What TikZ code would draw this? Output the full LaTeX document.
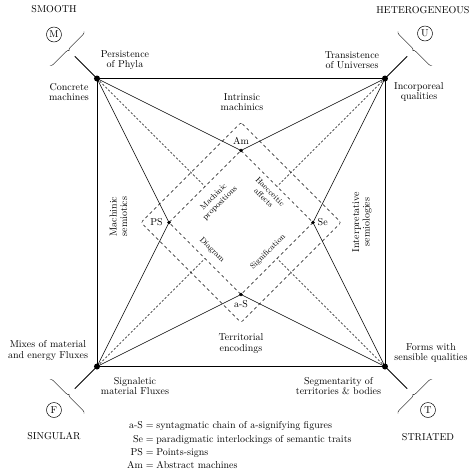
\documentclass[tikz,border=0pt]{standalone}
\usetikzlibrary{decorations.pathreplacing}
\begin{document}
\begin{tikzpicture}[x=1pt, y=1pt, line join=round, line cap=round,
	lab/.style={align=center, font=\fontsize{10}{10.5}\selectfont, inner sep=1pt},
	inn/.style={align=center, font=\fontsize{8}{9}\selectfont, inner sep=1pt},
	mark circ/.style={circle, draw, line width=0.5pt, inner sep=0pt, minimum size=15pt},
	brc/.style={decorate, decoration={brace, amplitude=3pt}, line width=0.4pt}]
	\def\a{144} \def\b{72} \def\c{100}
	\useasboundingbox (-241,-252.5) rectangle (234,222.5);
	\coordinate (TL) at (-\a,\a); \coordinate (TR) at (\a,\a);
	\coordinate (BL) at (-\a,-\a); \coordinate (BR) at (\a,-\a);
	\coordinate (Am) at (0,\b); \coordinate (Se) at (\b,0);
	\coordinate (aS) at (0,-\b); \coordinate (PS) at (-\b,0);
	\coordinate (mTL) at (-\b/2,\b/2); \coordinate (mTR) at (\b/2,\b/2);
	\coordinate (mBL) at (-\b/2,-\b/2); \coordinate (mBR) at (\b/2,-\b/2);
	% square and star
	\draw[line width=0.8pt] (TL) rectangle (BR);
	\draw[line width=0.6pt] (TL)--(Am)--(TR)--(Se)--(BR)--(aS)--(BL)--(PS)--cycle;
	% dashed diamonds and diagonals
	\draw[dashed, line width=0.4pt] (Am)--(Se)--(aS)--(PS)--cycle;
	\draw[dashed, line width=0.4pt, rounded corners=2pt] (0,\c)--(\c,0)--(0,-\c)--(-\c,0)--cycle;
	\foreach \n in {TL,TR,BL,BR} \draw[line width=0.5pt, dash pattern=on 2pt off 2pt] (\n)--(m\n);
	% corners
	\foreach \n/\sx/\sy in {TL/-1/1, TR/1/1, BL/-1/-1, BR/1/-1} {
		\coordinate (e\n) at (\sx*166,\sy*166);
		\draw[line width=1pt] (\n)--(e\n);
		\fill (\n) circle(3pt);
	}
	\foreach \i in {Am,Se,aS,PS} \fill (\i) circle(1.8pt);
	\draw[brc] (-157,191)--(-191,157);
	\draw[brc] (191,157)--(157,191);
	\draw[brc] (-191,-157)--(-157,-191);
	\draw[brc] (157,-191)--(191,-157);
	\path
	(-187,188) node[mark circ] (cM) {M}
	(184,189) node[mark circ] (cU) {U}
	(-187,-187.5) node[mark circ] (cF) {F}
	(187,-187.5) node[mark circ] (cT) {T}
	(-187,213.5) node[lab] (smooth) {SMOOTH}
	(182,212.5) node[lab] (hetero) {HETEROGENEOUS}
	(-187,-214) node[lab] (singular) {SINGULAR}
	(187,-214.5) node[lab] (striated) {STRIATED};
	% corner labels
	\path
	(-116,162.5) node[lab] (pers) {Persistence\\of Phyla}
	(-172,130.5) node[lab] (conc) {Concrete\\machines}
	(111,162.5) node[lab] (trans) {Transistence\\of Universes}
	(178,130.5) node[lab] (incorp) {Incorporeal\\qualities}
	(-193,-128) node[lab] (mixes) {Mixes of material\\and energy Fluxes}
	(-106,-163.5) node[lab] (signal) {Signaletic\\material Fluxes}
	(190,-130.5) node[lab] (forms) {Forms with\\sensible qualities}
	(97.5,-163.5) node[lab] (segm) {Segmentarity of\\territories \& bodies};
	% side labels
	\path
	(1,120.5) node[lab] (intr) {Intrinsic\\machinics}
	(0,-121) node[lab] (terr) {Territorial\\encodings}
	(-122.5,6) node[lab, rotate=90] (msem) {Machinic\\semiotics}
	(121,0.5) node[lab, rotate=90] (isem) {Interpretative\\semiologies};
	% inner labels
	\path
	(Am) node[lab, above=5pt] (lAm) {Am}
	(aS) node[lab, below=5pt] (laS) {a-S}
	(PS) node[lab, left=5pt] (lPS) {PS}
	(Se) node[lab, right=3.5pt] (lSe) {Se}
	(-24,22.5) node[inn, rotate=45] (mprop) {Machinic\\propositions}
	(26,27.5) node[inn, rotate=-45] (haec) {Haecceitic\\affects}
	(-29,-27.5) node[inn, rotate=-45] (diag) {Diagram}
	(27,-29.5) node[inn, rotate=45] (signif) {Signification};
	% legend
	\node[anchor=north west, inner sep=0pt, font=\fontsize{10}{12}\selectfont] (legend) at (-114,-197)
	{\renewcommand{\arraystretch}{1.1}\begin{tabular}{@{}r@{${}={}$}l@{}}
		a-S & syntagmatic chain of a-signifying figures\\
		Se & paradigmatic interlockings of semantic traits\\
		PS & Points-signs\\
		Am & Abstract machines
	\end{tabular}};
\end{tikzpicture}
\end{document}
